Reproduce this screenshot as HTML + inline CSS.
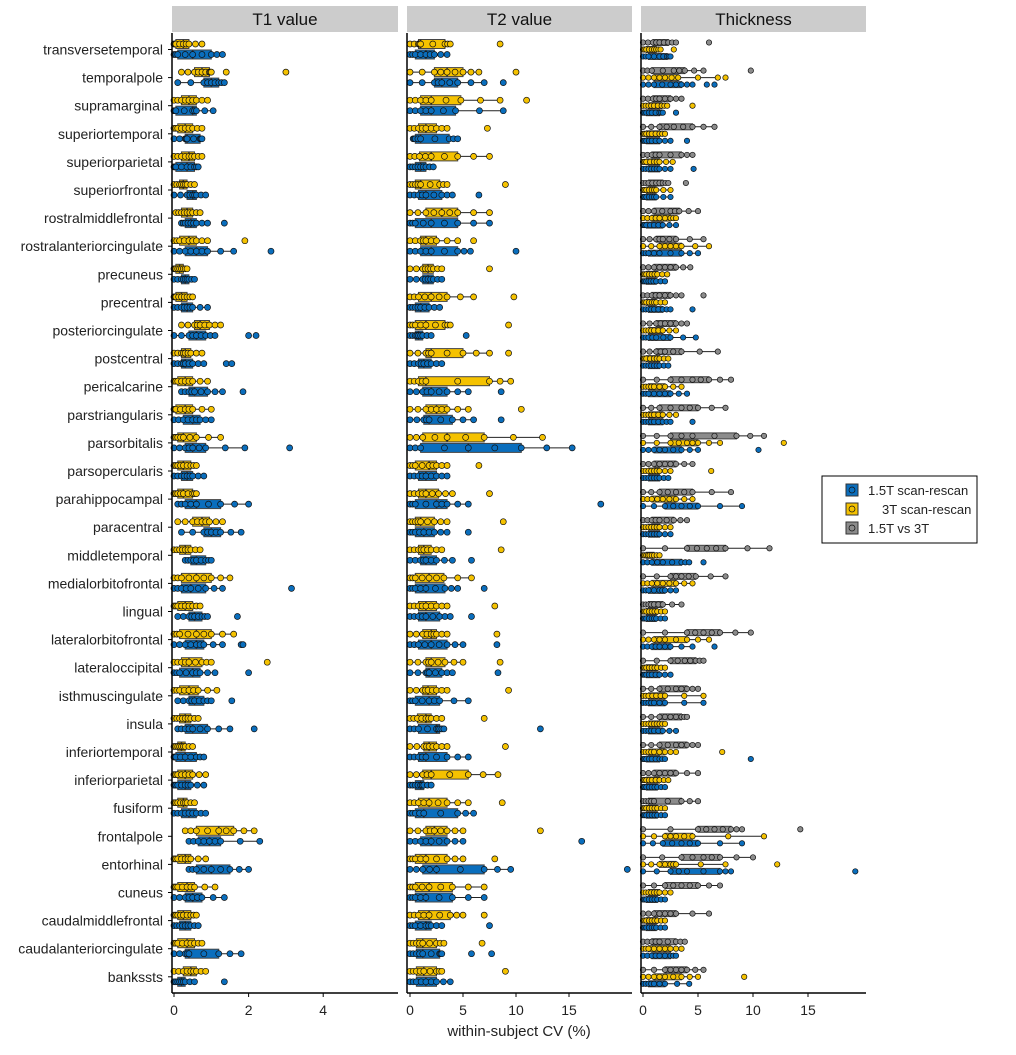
<!DOCTYPE html>
<html><head><meta charset="utf-8"><style>
body{margin:0;background:#fff;}
svg text{font-family:"Liberation Sans",Arial,sans-serif;}
</style></head><body>
<svg id="chart" width="1016" height="1050" xmlns="http://www.w3.org/2000/svg">
<rect width="1016" height="1050" fill="#fff"/>
</svg>
<script>
const regions=["transversetemporal","temporalpole","supramarginal","superiortemporal","superiorparietal","superiorfrontal","rostralmiddlefrontal","rostralanteriorcingulate","precuneus","precentral","posteriorcingulate","postcentral","pericalcarine","parstriangularis","parsorbitalis","parsopercularis","parahippocampal","paracentral","middletemporal","medialorbitofrontal","lingual","lateralorbitofrontal","lateraloccipital","isthmuscingulate","insula","inferiortemporal","inferiorparietal","fusiform","frontalpole","entorhinal","cuneus","caudalmiddlefrontal","caudalanteriorcingulate","bankssts"];
// [lowWhisker, q1, median, q3, highWhisker, ...outliers]
const t1Yellow=[[0,0.05,0.25,0.4,0.75],[0.2,0.55,0.75,0.95,1.0,1.4,3.0],[0,0.2,0.4,0.6,0.9],[0,0.1,0.3,0.5,0.75],[0,0.2,0.4,0.55,0.75],[0,0.15,0.25,0.35,0.55],[0.05,0.2,0.35,0.5,0.7],[0,0.15,0.4,0.6,0.9,1.9],[0,0.05,0.15,0.25,0.35],[0,0.05,0.2,0.35,0.5],[0.2,0.55,0.7,0.95,1.25],[0,0.2,0.3,0.45,0.75],[0,0.1,0.3,0.5,0.9],[0,0.05,0.3,0.5,1.0],[0,0.1,0.25,0.6,1.25],[0,0.1,0.25,0.45,0.6],[0,0.1,0.25,0.5,0.6],[0.1,0.5,0.75,0.95,1.3],[0,0.15,0.3,0.45,0.7],[0,0.2,0.6,1.0,1.5],[0,0.1,0.3,0.5,0.7],[0,0.15,0.6,1.0,1.6],[0,0.2,0.4,0.75,1.0,2.5],[0,0.15,0.4,0.65,1.15],[0,0.15,0.3,0.45,0.65],[0,0.1,0.2,0.3,0.5],[0,0.1,0.3,0.5,0.85],[0,0.1,0.25,0.35,0.55],[0.3,0.6,1.2,1.6,2.15],[0,0.1,0.3,0.45,0.85],[0,0.1,0.35,0.55,1.1],[0,0.1,0.25,0.45,0.6],[0,0.1,0.35,0.55,0.75],[0,0.25,0.45,0.6,0.85]];
const t1Blue=[[0,0.1,0.5,1.0,1.3],[0.1,0.8,1.0,1.2,1.35],[0,0.05,0.5,0.6,1.05],[0,0.3,0.35,0.7,0.75],[0,0.05,0.35,0.55,0.65],[0,0.35,0.5,0.6,0.85],[0.2,0.3,0.45,0.6,0.9,1.35],[0,0.3,0.6,0.9,1.6,2.6],[0,0.2,0.3,0.4,0.55],[0,0.2,0.35,0.5,0.9],[0,0.4,0.6,0.85,1.1,2.0,2.2],[0,0.2,0.3,0.5,0.8,1.4,1.55],[0.2,0.4,0.55,0.9,1.3,1.85],[0,0.25,0.5,0.7,1.0],[0,0.3,0.5,0.85,1.9,3.1],[0,0.2,0.35,0.5,0.8],[0.1,0.3,0.6,1.25,2.0],[0.2,0.8,1.0,1.25,1.8],[0.3,0.45,0.6,0.85,1.0],[0,0.2,0.45,0.85,1.3,3.15],[0.1,0.4,0.55,0.75,0.9,1.7],[0,0.3,0.6,0.8,1.3,1.8,1.85],[0,0.15,0.5,0.7,1.1,2.0],[0.1,0.4,0.55,0.8,1.0,1.55],[0.1,0.3,0.5,0.9,1.5,2.15],[0,0.05,0.3,0.6,0.8],[0,0.1,0.3,0.45,0.8],[0,0.2,0.4,0.6,0.85],[0.4,0.65,0.95,1.25,2.3],[0.4,0.6,1.0,1.5,2.0],[0,0.3,0.5,0.75,1.35],[0,0.15,0.3,0.45,0.65],[0,0.3,0.4,1.2,1.8],[0,0.1,0.2,0.3,0.55,1.35]];
const t2Yellow=[[0,0.8,1.0,3.3,3.8,8.5],[0,2.3,3.5,5.0,6.5,10],[0,1.0,2.0,4.8,8.5,11],[0,0.8,1.5,2.5,3.5,7.3],[0,0.9,2.0,4.5,7.5],[0,0.5,1.0,2.8,3.5,9.0],[0,1.5,3.0,4.5,7.5],[0,1.0,1.5,2.5,4.5,6],[0,1.2,1.7,2.2,3.0,7.5],[0,0.8,2.0,3.5,6.0,9.8],[0,0.5,1.5,3.3,3.8,9.3],[0,1.5,2.0,5.0,7.5,9.3],[0,0.8,1.5,7.5,9.5],[0,1.5,2.5,3.5,5.5,10.5],[0,1.2,3.5,7.0,12.5],[0,0.5,1.8,2.5,3.5,6.5],[0,0.8,1.5,2.7,4.0,7.5],[0,0.5,1.0,2.3,3.5,8.8],[0,0.8,1.3,2.0,3.0,8.6],[0,0.5,1.8,3.2,5.8],[0,0.8,1.5,2.5,3.5,8.0],[0,1.2,2.0,2.5,3.5,8.2],[0,1.5,2.0,3.3,5.0,8.5],[0,1.2,1.7,2.5,3.5,9.3],[0,0.7,1.5,2.0,3.0,7.0],[0,1.3,1.8,2.5,3.5,9.0],[0,1.2,2.0,5.5,8.3],[0,0.8,1.8,3.5,5.5,8.7],[0,1.5,2.3,3.5,5.0,12.3],[0,0.5,1.5,3.5,5.0,8.0],[0,0.5,1.8,4.0,7.0],[0,0.8,1.8,3.8,5.0,7.0],[0,0.6,1.2,2.5,3.2,6.8],[0,0.6,1.3,2.5,3.0,9.0]];
const t2Blue=[[0,0.5,1.5,2.3,3.5],[0,2.3,3.0,4.5,7,8.8],[0,1.0,2.0,4.3,8.8],[0.3,0.5,1.0,3.7,4.5],[0,0.5,1.0,1.5,2.2],[0,0.8,1.5,3.0,4.0,6.5],[0,0.5,2.0,4.5,7.5],[0,1.0,2.0,4.5,5.7,10],[0,1.2,1.7,2.2,3.0],[0,0.5,1.0,1.8,2.8],[0,0.5,0.8,1.2,2.0,5.3],[0,0.8,1.3,2.0,3.0],[0,1.2,2.0,3.5,5.5,8.6],[0,1.3,1.8,4.0,6.0,8.6],[0,1.0,5.5,10.5,15.3],[0,0.8,1.5,2.5,3.5],[0,0.5,2.5,3.5,5.5,18],[0,0.5,1.3,2.3,3.5,5.5],[0,1.0,1.5,2.5,4.0,5.8],[0,0.5,1.5,3.3,4.5,7.0],[0,0.8,1.5,2.8,3.8,5.8],[0,0.8,2.0,3.5,5.0,8.2],[0,1.5,1.8,3.0,4.0,8.3],[0,0.5,1.8,2.8,5.5],[0,0.8,2.5,2.8,3.2,12.3],[0,0.8,1.5,3.5,5.5],[0,0.5,1.0,1.3,2.0],[0,0.5,1.3,4.5,6.0],[0,1.0,2.0,3.5,5.0,16.2],[0,1.2,2.5,7.0,9.5,20.5],[0,0.5,1.5,4.0,7.0],[0,0.5,1.5,2.0,3.0,7.5],[0,0.6,1.2,2.8,3.0,5.8,7.7],[0,0.6,1.5,2.5,3.8]];
const thGrey=[[0,0.9,1.5,2.3,3.0,6.0],[0,0.8,2.8,3.8,5.5,9.8],[0,0.9,1.5,2.5,3.5],[0,1.5,2.8,4.5,6.5],[0,0.8,1.5,3.5,4.5],[0,0.5,1.2,1.8,2.3,3.9],[0,1.0,2.5,3.3,5.0],[0,1.2,1.8,3.0,5.5],[0,1.0,2.0,3.0,4.3],[0,0.8,1.5,2.5,3.5,5.5],[0,1.2,2.0,3.0,4.0],[0,1.2,2.0,3.5,6.8],[0,2.5,4.5,6.0,8.0],[0,1.5,3.5,5.0,7.5],[0,2.5,4.5,8.5,11.0],[0,1.0,2.0,3.0,4.5],[0,1.5,3.0,4.5,8.0],[0,0.8,1.5,2.8,4.0],[0,4.0,5.8,7.5,11.5],[0,2.5,3.5,4.8,7.5],[0,0.5,1.0,1.8,3.5],[0,4.0,5.5,7.0,9.8],[0,2.5,3.8,4.8,5.5],[0,1.5,3.0,4.0,5.0],[0,1.5,2.5,3.5,4.0],[0,1.5,3.0,4.0,5.0],[0,1.0,2.0,3.0,5.0],[0,0.5,1.0,3.5,5.0],[0,5.0,6.5,8.0,9.0,14.3],[0,3.5,5.5,7.0,10.0],[0,2.0,3.5,5.0,7.0],[0,1.0,2.0,3.0,6.0],[0,0.8,1.5,3.0,3.8],[0,2.0,3.0,4.0,5.5]];
const thYellow=[[0,0.3,0.8,1.2,1.6,2.8],[0,1.0,2.0,3.2,6.8,7.5],[0,0.5,1.0,1.7,2.2,4.5],[0,0.3,0.8,1.5,2.0],[0,0.3,1.0,1.5,2.7],[0,0.3,0.8,1.2,2.5],[0,0.8,1.5,2.5,3.0],[0,1.5,2.5,3.5,6.0],[0,0.3,0.8,1.3,2.2],[0,0.3,0.8,1.2,2.0],[0,0.5,1.0,1.8,3.0],[0,0.3,1.0,1.5,2.3],[0,0.5,1.0,2.0,3.5],[0,0.5,1.0,1.8,3.0],[0,2.5,4.0,5.0,7.0,12.8],[0,0.5,1.0,1.5,2.5,6.2],[0,0.8,1.8,3.0,4.5],[0,0.5,1.0,1.5,2.5],[0,0.3,0.6,1.0,1.5],[0,0.8,1.8,3.0,4.5],[0,0.3,0.8,1.3,2.0],[0,1.0,2.0,4.0,6.0],[0,0.3,0.8,1.3,2.0],[0,0.5,1.2,2.0,5.5],[0,0.5,1.0,1.5,2.0],[0,0.5,1.0,2.0,3.0,7.2],[0,0.3,0.8,1.5,2.3],[0,0.3,0.8,1.3,2.0],[0,2.0,3.0,4.5,11.0],[0,1.5,2.5,3.0,7.5,12.2],[0,0.5,1.0,1.5,2.5],[0,0.3,0.8,1.3,2.0],[0,0.5,1.5,2.5,3.5],[0,1.0,2.0,3.5,5.0,9.2]];
const thBlue=[[0,0.5,1.5,2.2,2.5],[0,1.0,2.5,3.5,4.5,5.8,6.5],[0,0.3,0.8,1.5,1.8,3.0],[0,0.3,0.8,1.5,2.5,4.0],[0,0.5,1.0,1.5,2.5,4.6],[0,0.3,0.8,1.2,2.5],[0,0.3,1.0,1.8,3.0],[0,0.5,1.5,3.5,5.0],[0,0.3,0.7,1.2,2.0],[0,0.5,1.0,1.8,2.5,4.5],[0,0.5,1.2,2.5,4.8],[0,0.5,1.0,1.5,2.3],[0,0.5,1.5,2.5,4.0],[0,0.5,1.0,1.8,2.5,4.5],[0,1.0,2.0,3.5,5.0,10.5],[0,0.5,1.0,1.5,2.3],[0,2.0,3.5,5.0,9.0],[0,0.5,1.0,1.5,2.5],[0,0.8,1.8,3.5,4.2,5.5],[0,0.5,1.5,2.0,3.0],[0,0.3,0.8,1.2,2.0],[0,0.8,1.5,2.5,4.5,6.5],[0,0.3,0.8,1.5,2.5],[0,0.5,1.0,2.0,5.5],[0,0.5,1.0,1.8,3.0],[0,0.3,0.8,1.5,2.0,9.8],[0,0.3,0.8,1.3,2.0],[0,0.3,0.8,1.3,2.0],[0,1.8,3.5,5.0,9.0],[0,2.5,4.0,7.0,8.0,19.3],[0,0.3,0.8,1.3,2.0],[0,0.3,0.8,1.2,2.0],[0,0.8,1.5,2.5,3.0],[0,0.5,1.0,2.0,4.2]];
const t1Ticks=[0,2,4], t2Ticks=[0,5,10,15], thTicks=[0,5,10,15];
const panelTitles=["T1 value","T2 value","Thickness"];
const legendLabels=["1.5T scan-rescan","3T scan-rescan","1.5T vs 3T"];

const NS="http://www.w3.org/2000/svg";
const svg=document.getElementById('chart');
function mk(tag,attrs,parent){const e=document.createElementNS(NS,tag);for(const k in attrs)e.setAttribute(k,attrs[k]);(parent||svg).appendChild(e);return e;}
const BLUE="#0A6EBD",YEL="#F5C200",GREY="#8C8C8C";
const panels=[
 {x0:172,x1:398,zero:174,k:37.3,ticks:t1Ticks,series:[[t1Yellow,YEL,-5.5,9,3],[t1Blue,BLUE,5,9,3]]},
 {x0:407,x1:632,zero:410,k:10.6,ticks:t2Ticks,series:[[t2Yellow,YEL,-5.5,9,3],[t2Blue,BLUE,5,9,3]]},
 {x0:641,x1:866,zero:643,k:11,ticks:thTicks,series:[[thGrey,GREY,-7,6,2.7],[thYellow,YEL,0,6,2.7],[thBlue,BLUE,7,6,2.7]]}
];
const yTop=33,yBot=993;
function rowY(i){return 49.5+i*28.1;}
panels.forEach((p,pi)=>{
 const xs=v=>Math.min(p.zero+v*p.k,p.x1-2);
 const g=mk('g',{});
 
 
 const strip=mk('rect',{x:p.x0,y:6,width:p.x1-p.x0,height:26,fill:'#cccccc'},g);
 
 
 const st=mk('text',{x:(p.x0+p.x1)/2,y:25,'font-size':17,'text-anchor':'middle',fill:'#111'},g);
 st.textContent=panelTitles[pi];
 
 
 p.series.forEach(([data,col,off,h,r])=>{
  data.forEach((d,i)=>{
   const cy=rowY(i)+off;
   const bg=mk('g',{},g);
   
   
   mk('line',{x1:xs(d[0]),x2:xs(d[4]),y1:cy,y2:cy,stroke:'#222','stroke-width':1},bg);
   mk('rect',{x:xs(d[1]),y:cy-h/2,width:Math.max(1,xs(d[3])-xs(d[1])),height:h,fill:col,stroke:'#444','stroke-width':1},bg);
   mk('line',{x1:xs(d[2]),x2:xs(d[2]),y1:cy-h/2,y2:cy+h/2,stroke:'#333','stroke-width':1.5},bg);
   const pts=[d[0],(d[0]+d[1])/2,d[1],(d[1]+d[2])/2,d[2],(d[2]+d[3])/2,d[3],(d[3]+d[4])/2,d[4]].concat(d.slice(5));
   pts.forEach(v=>{
    const c=mk('circle',{cx:xs(v),cy:cy,r:r,fill:col,stroke:'#111','stroke-width':0.7},bg);
    
    
   });
  });
 });
 mk('line',{x1:p.x0,x2:p.x0,y1:yTop,y2:yBot,stroke:'#000','stroke-width':1.5},g);
 mk('line',{x1:p.x0,x2:p.x1,y1:yBot,y2:yBot,stroke:'#000','stroke-width':1.5},g);
 p.ticks.forEach(t=>{
  const x=p.zero+t*p.k;
  mk('line',{x1:x,x2:x,y1:yBot,y2:yBot+4,stroke:'#000'},g);
  const tl=mk('text',{x:x,y:1015,'font-size':14,'text-anchor':'middle',fill:'#222'},g);
  tl.textContent=t;
  
  
 });
});
regions.forEach((r,i)=>{
 const y=rowY(i);
 mk('line',{x1:168,x2:172,y1:y,y2:y,stroke:'#000'});
 const t=mk('text',{x:163,y:y+5,'font-size':14,'text-anchor':'end',fill:'#222'});
 t.textContent=r;
 
 
});
const xt=mk('text',{x:519,y:1036,'font-size':15,'text-anchor':'middle',fill:'#222'});
xt.textContent="within-subject CV (%)";


const lg=mk('g',{});


mk('rect',{x:822,y:476,width:155,height:67,fill:'#fff',stroke:'#000','stroke-width':1},lg);
[BLUE,YEL,GREY].forEach((c,i)=>{
 const y=490+i*19;
 const e=mk('g',{},lg);
 
 
 mk('rect',{x:846,y:y-6,width:12,height:12,fill:c,stroke:'#333'},e);
 mk('circle',{cx:852,cy:y,r:3,fill:c,stroke:'#111','stroke-width':0.7},e);
 const t=mk('text',{x:i==1?882:868,y:y+5,'font-size':13,fill:'#222'},e);
 t.textContent=legendLabels[i];
});
</script>
</body></html>
